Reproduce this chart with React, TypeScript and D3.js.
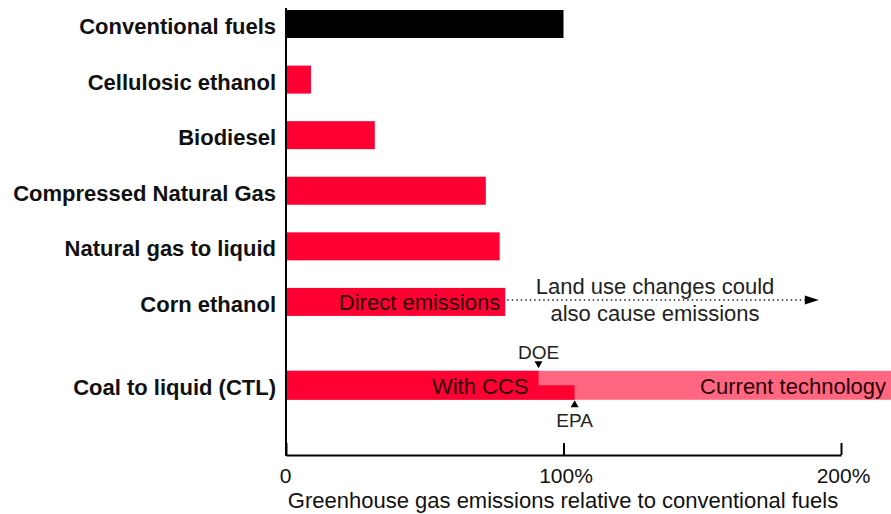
import * as d3 from "d3";
import React, { useRef, useEffect } from "react";

const categories = [
  "Conventional fuels",
  "Cellulosic ethanol",
  "Biodiesel",
  "Compressed Natural Gas",
  "Natural gas to liquid",
  "Corn ethanol",
  "Coal to liquid (CTL)",
];
const values = [100, 9, 32, 72, 77, 79, 91];
const cornLandUse = 192;
const ctlDOE = 91;
const ctlEPA = 104;
const ctlCurrent = 222;
const tickValues = [0, 100, 200];
const tickLabels = ["0", "100%", "200%"];

const RED = "#ff0033";
const PINK = "#ff6680";
const FONT = "'Liberation Sans', Arial, sans-serif";

export default function App() {
  const ref = useRef<SVGSVGElement>(null);
  const width = 891;
  const height = 514;
  const x0 = 286;

  useEffect(() => {
    const svg = d3.select(ref.current);
    svg.selectAll("*").remove();

    const x = d3.scaleLinear().domain([0, 200]).range([x0, 841]);
    // category slots; the CTL row sits half a step lower
    const slot = d3.scaleLinear().domain([0, 6]).range([24, 357.5]);
    const yc = (i: number) => slot(i === 6 ? 6.5 : i);
    const bh = 28;

    const g = svg.append("g");

    // plain bars (all but CTL)
    g.selectAll("rect.bar")
      .data(values.slice(0, 6))
      .enter()
      .append("rect")
      .attr("class", "bar")
      .attr("x", x(0))
      .attr("y", (d, i) => yc(i) - bh / 2)
      .attr("width", (d) => x(d) - x(0))
      .attr("height", bh)
      .attr("fill", (d, i) => (i === 0 ? "#000" : RED));

    // CTL bar: current technology (light), then CCS step DOE / EPA
    const cy = yc(6);
    g.append("rect")
      .attr("x", x(0))
      .attr("y", cy - 14.5)
      .attr("width", x(ctlCurrent) - x(0))
      .attr("height", 29)
      .attr("fill", PINK);
    g.append("rect")
      .attr("x", x(0))
      .attr("y", cy - 14.5)
      .attr("width", x(ctlDOE) - x(0))
      .attr("height", 15)
      .attr("fill", RED);
    g.append("rect")
      .attr("x", x(0))
      .attr("y", cy)
      .attr("width", x(ctlEPA) - x(0))
      .attr("height", 14.5)
      .attr("fill", RED);

    // category labels
    g.selectAll("text.cat")
      .data(categories)
      .enter()
      .append("text")
      .attr("class", "cat")
      .attr("x", 276)
      .attr("y", (d, i) => yc(i) + 10)
      .attr("text-anchor", "end")
      .attr("font-family", FONT)
      .attr("font-weight", "bold")
      .attr("font-size", 22)
      .attr("fill", "#111")
      .text((d) => d);

    // corn ethanol annotations
    const ey = yc(5);
    g.append("text")
      .attr("x", x(values[5]) - 5)
      .attr("y", ey + 8)
      .attr("text-anchor", "end")
      .attr("font-family", FONT)
      .attr("font-size", 22)
      .attr("fill", "#2a0008")
      .text("Direct emissions");
    g.append("line")
      .attr("x1", x(values[5]) + 2)
      .attr("x2", x(cornLandUse) - 12)
      .attr("y1", ey - 2)
      .attr("y2", ey - 2)
      .attr("stroke", "#222")
      .attr("stroke-width", 1.5)
      .attr("stroke-dasharray", "1.5,3");
    g.append("path")
      .attr(
        "d",
        `M${x(cornLandUse)},${ey - 2} L${x(cornLandUse) - 14},${ey - 6.5} L${x(cornLandUse) - 14},${ey + 2.5} Z`
      )
      .attr("fill", "#000");
    const mid = 655;
    g.append("text")
      .attr("x", mid)
      .attr("y", ey - 8)
      .attr("text-anchor", "middle")
      .attr("font-family", FONT)
      .attr("font-size", 22)
      .attr("fill", "#222")
      .text("Land use changes could");
    g.append("text")
      .attr("x", mid)
      .attr("y", ey + 19)
      .attr("text-anchor", "middle")
      .attr("font-family", FONT)
      .attr("font-size", 22)
      .attr("fill", "#222")
      .text("also cause emissions");

    // CTL annotations
    g.append("text")
      .attr("x", x(ctlDOE) - 10)
      .attr("y", cy + 9)
      .attr("text-anchor", "end")
      .attr("font-family", FONT)
      .attr("font-size", 22)
      .attr("fill", "#2a0008")
      .text("With CCS");
    g.append("text")
      .attr("x", 886)
      .attr("y", cy + 9)
      .attr("text-anchor", "end")
      .attr("font-family", FONT)
      .attr("font-size", 22)
      .attr("fill", "#2a0008")
      .text("Current technology");
    g.append("path")
      .attr("d", `M${x(ctlDOE)},${cy - 17} l-4,-7 l8,0 Z`)
      .attr("fill", "#000");
    g.append("text")
      .attr("x", x(ctlDOE))
      .attr("y", cy - 26)
      .attr("text-anchor", "middle")
      .attr("font-family", FONT)
      .attr("font-size", 19)
      .attr("fill", "#222")
      .text("DOE");
    g.append("path")
      .attr("d", `M${x(ctlEPA)},${cy + 15} l-4,7 l8,0 Z`)
      .attr("fill", "#000");
    g.append("text")
      .attr("x", x(ctlEPA))
      .attr("y", cy + 42)
      .attr("text-anchor", "middle")
      .attr("font-family", FONT)
      .attr("font-size", 19)
      .attr("fill", "#222")
      .text("EPA");

    // axes
    const axisY = 455;
    g.append("line")
      .attr("x1", x(0))
      .attr("x2", x(0))
      .attr("y1", 8)
      .attr("y2", axisY + 1)
      .attr("stroke", "#000")
      .attr("stroke-width", 2);
    const xAxis = g
      .append("g")
      .attr("transform", `translate(0, ${axisY})`)
      .call(
        d3
          .axisBottom(x)
          .tickValues(tickValues)
          .tickSizeInner(-12)
          .tickSizeOuter(0)
          .tickFormat((d, i) => tickLabels[i])
      );
    xAxis.select(".domain").attr("stroke", "#000").attr("stroke-width", 2);
    xAxis.selectAll(".tick line").attr("stroke", "#000").attr("stroke-width", 2);
    xAxis
      .selectAll(".tick text")
      .attr("y", 28)
      .attr("dy", null)
      .attr("font-family", FONT)
      .attr("font-size", 21)
      .attr("fill", "#111")
      .attr("text-anchor", "middle")
      .attr("dx", (d) => (d === 0 ? -1 : 2));

    g.append("text")
      .attr("x", 563)
      .attr("y", 508)
      .attr("text-anchor", "middle")
      .attr("font-family", FONT)
      .attr("font-size", 22)
      .attr("fill", "#111")
      .text("Greenhouse gas emissions relative to conventional fuels");
  }, []);

  return (
    <svg
      ref={ref}
      width={width}
      height={height}
      style={{ position: "absolute", left: 0, top: 0, background: "#fff" }}
    ></svg>
  );
}
